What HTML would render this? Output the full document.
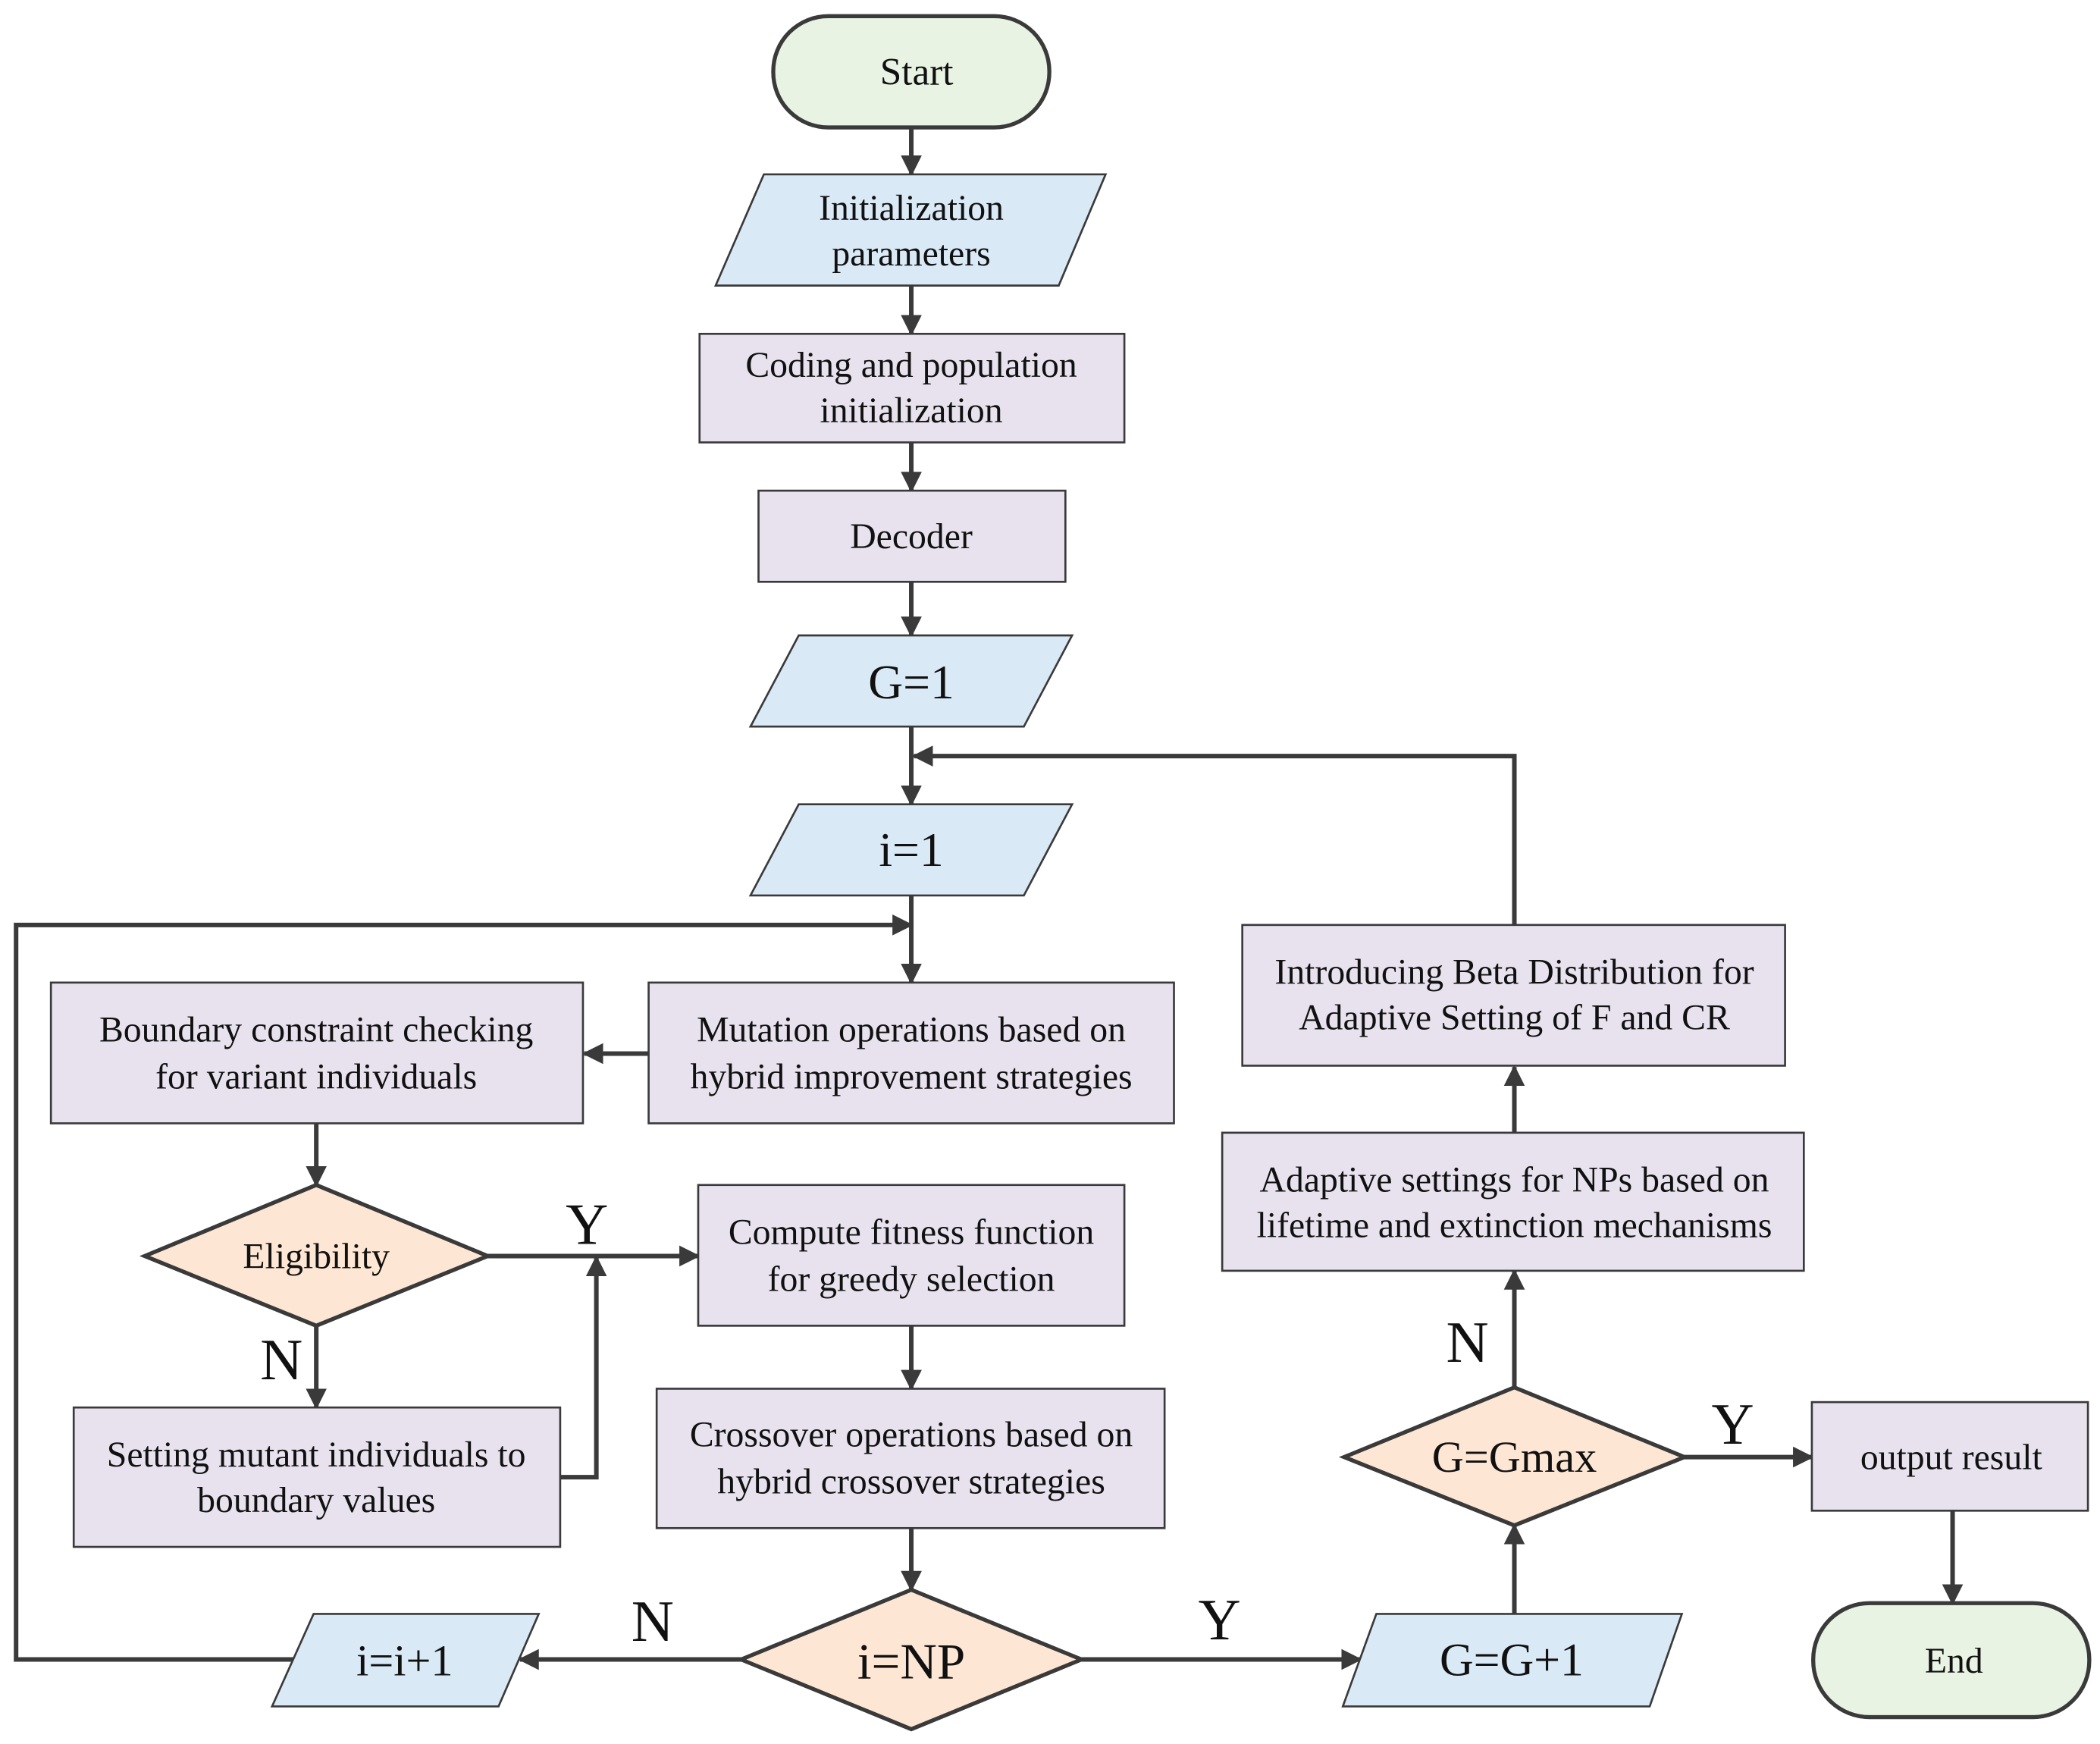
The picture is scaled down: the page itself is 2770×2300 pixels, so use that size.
<!DOCTYPE html>
<html><head><meta charset="utf-8"><style>html,body{margin:0;padding:0;background:#fff}svg{display:block}svg text{font-family:"Liberation Serif","Times New Roman",serif}</style></head>
<body>
<svg width="2770" height="2300" viewBox="0 0 1567 1301" xmlns="http://www.w3.org/2000/svg" style="font-family:'Liberation Serif',serif" fill="#111">
<defs>
<marker id="a" viewBox="0 0 10 10" refX="9" refY="5" markerWidth="4.6" markerHeight="4.6" orient="auto" markerUnits="strokeWidth"><path d="M0,0 L10,5 L0,10 z" fill="#3a3a3a"/></marker>
</defs>
<g stroke="#3a3a3a" stroke-width="3.4" fill="none">
<line x1="680" y1="95" x2="680" y2="130" marker-end="url(#a)"/>
<line x1="680" y1="213" x2="680" y2="249" marker-end="url(#a)"/>
<line x1="680" y1="330" x2="680" y2="366" marker-end="url(#a)"/>
<line x1="680" y1="434" x2="680" y2="474" marker-end="url(#a)"/>
<line x1="680" y1="542" x2="680" y2="600" marker-end="url(#a)"/>
<polyline points="1130,690 1130,564 682,564" marker-end="url(#a)"/>
<line x1="680" y1="668" x2="680" y2="733" marker-end="url(#a)"/>
<polyline points="220,1238 12,1238 12,690 680,690" marker-end="url(#a)"/>
<line x1="484" y1="786" x2="436" y2="786" marker-end="url(#a)"/>
<line x1="236" y1="838" x2="236" y2="884" marker-end="url(#a)"/>
<line x1="364" y1="937" x2="521" y2="937" marker-end="url(#a)"/>
<line x1="236" y1="989" x2="236" y2="1050" marker-end="url(#a)"/>
<polyline points="418,1102 445,1102 445,938" marker-end="url(#a)"/>
<line x1="680" y1="989" x2="680" y2="1036" marker-end="url(#a)"/>
<line x1="680" y1="1140" x2="680" y2="1186" marker-end="url(#a)"/>
<line x1="553" y1="1238" x2="388" y2="1238" marker-end="url(#a)"/>
<line x1="807" y1="1238" x2="1015" y2="1238" marker-end="url(#a)"/>
<line x1="1130" y1="1204" x2="1130" y2="1138" marker-end="url(#a)"/>
<line x1="1130" y1="1035" x2="1130" y2="948" marker-end="url(#a)"/>
<line x1="1130" y1="845" x2="1130" y2="796" marker-end="url(#a)"/>
<line x1="1257" y1="1087" x2="1352" y2="1087" marker-end="url(#a)"/>
<line x1="1457" y1="1127" x2="1457" y2="1196" marker-end="url(#a)"/>
</g>
<g stroke="#3a3a3a" stroke-width="1.5">
<rect x="577" y="12" width="206" height="83" rx="41" fill="#e9f3e3" stroke-width="3"/>
<rect x="1353" y="1196" width="206" height="85" rx="42" fill="#e9f3e3" stroke-width="3"/>
<polygon points="570,130 825,130 790,213 534,213" fill="#dae9f6"/>
<polygon points="596,474 800,474 764,542 560,542" fill="#dae9f6"/>
<polygon points="596,600 800,600 764,668 560,668" fill="#dae9f6"/>
<polygon points="234,1204 402,1204 372,1273 203,1273" fill="#dae9f6"/>
<polygon points="1027,1204 1255,1204 1231,1273 1002,1273" fill="#dae9f6"/>
<rect x="522" y="249" width="317" height="81" fill="#e8e2ef"/>
<rect x="566" y="366" width="229" height="68" fill="#e8e2ef"/>
<rect x="484" y="733" width="392" height="105" fill="#e8e2ef"/>
<rect x="38" y="733" width="397" height="105" fill="#e8e2ef"/>
<rect x="521" y="884" width="318" height="105" fill="#e8e2ef"/>
<rect x="55" y="1050" width="363" height="104" fill="#e8e2ef"/>
<rect x="490" y="1036" width="379" height="104" fill="#e8e2ef"/>
<rect x="927" y="690" width="405" height="105" fill="#e8e2ef"/>
<rect x="912" y="845" width="434" height="103" fill="#e8e2ef"/>
<rect x="1352" y="1046" width="206" height="81" fill="#e8e2ef"/>
<polygon points="108,937 236,884 364,937 236,989" fill="#fde6d4" stroke-width="3"/>
<polygon points="553,1238 680,1186 807,1238 680,1290" fill="#fde6d4" stroke-width="3"/>
<polygon points="1003,1087 1130,1035 1257,1087 1130,1138" fill="#fde6d4" stroke-width="3"/>
</g>
<g text-anchor="middle" font-size="27">
<text x="684" y="63" font-size="29">Start</text>
<text x="680" y="164">Initialization</text>
<text x="680" y="198">parameters</text>
<text x="680" y="281">Coding and population</text>
<text x="680" y="315">initialization</text>
<text x="680" y="409">Decoder</text>
<text x="680" y="521" font-size="36">G=1</text>
<text x="680" y="646" font-size="36">i=1</text>
<text x="680" y="777">Mutation operations based on</text>
<text x="680" y="812">hybrid improvement strategies</text>
<text x="236" y="777">Boundary constraint checking</text>
<text x="236" y="812">for variant individuals</text>
<text x="236" y="946">Eligibility</text>
<text x="680" y="928">Compute fitness function</text>
<text x="680" y="963">for greedy selection</text>
<text x="236" y="1094">Setting mutant individuals to</text>
<text x="236" y="1128">boundary values</text>
<text x="680" y="1079">Crossover operations based on</text>
<text x="680" y="1114">hybrid crossover strategies</text>
<text x="680" y="1252" font-size="38">i=NP</text>
<text x="302" y="1250" font-size="33">i=i+1</text>
<text x="1128" y="1250" font-size="35">G=G+1</text>
<text x="1130" y="1098" font-size="33">G=Gmax</text>
<text x="1130" y="889">Adaptive settings for NPs based on</text>
<text x="1130" y="923">lifetime and extinction mechanisms</text>
<text x="1130" y="734">Introducing Beta Distribution for</text>
<text x="1130" y="768">Adaptive Setting of F and CR</text>
<text x="1456" y="1096">output result</text>
<text x="1458" y="1248">End</text>
<g font-size="44">
<text x="438" y="928">Y</text>
<text x="210" y="1029">N</text>
<text x="487" y="1224">N</text>
<text x="910" y="1223">Y</text>
<text x="1095" y="1016">N</text>
<text x="1293" y="1077">Y</text>
</g>
</g>
</svg>
</body></html>
